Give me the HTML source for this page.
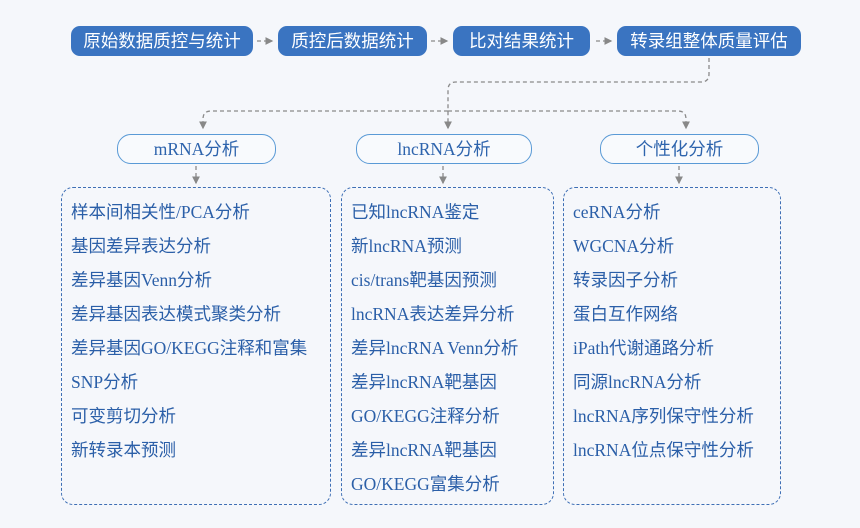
<!DOCTYPE html>
<html><head><meta charset="utf-8"><style>
body{margin:0;width:860px;height:528px;background:#f5f7fb;position:relative;overflow:hidden;font-family:"Liberation Serif","Noto Sans CJK SC",serif}
.t{position:absolute;height:30px;top:26px;border-radius:9px;background:#3a74c1;color:#fff;font-family:"Liberation Sans","Noto Sans CJK SC",sans-serif;font-size:17.5px;line-height:30px;text-align:center}
.c{position:absolute;top:134px;height:28px;border:1.5px solid #5a9ad6;border-radius:14px;background:#f8fafd;color:#2e64ad;font-size:17.5px;line-height:28px;text-align:center}
.b{position:absolute;top:187px;height:316px;border:1.7px dashed #3e6fb5;border-radius:12px}
.b div{position:absolute;left:9px;font-size:17.5px;color:#2b5fa8;white-space:nowrap;line-height:20px}
svg{position:absolute;left:0;top:0}
</style></head><body>
<svg width="860" height="528">
<defs><marker id="a" markerWidth="6" markerHeight="6" refX="5" refY="3" orient="auto"><path d="M0,0 L6,3 L0,6z" fill="#888"/></marker></defs>
<g stroke="#8a8a8a" stroke-width="1.3" stroke-dasharray="4,3" fill="none">
<line x1="257" y1="41" x2="272" y2="41" marker-end="url(#a)"/>
<line x1="431" y1="41" x2="447" y2="41" marker-end="url(#a)"/>
<line x1="596" y1="41" x2="611" y2="41" marker-end="url(#a)"/>
<path d="M709,58 V74 Q709,82 701,82 H456 Q448,82 448,90 V128" marker-end="url(#a)"/>
<path d="M448,111 H211 Q203,111 203,119 V128" marker-end="url(#a)"/>
<path d="M448,111 H678 Q686,111 686,119 V128" marker-end="url(#a)"/>
<line x1="196" y1="166" x2="196" y2="183" marker-end="url(#a)"/>
<line x1="443" y1="166" x2="443" y2="183" marker-end="url(#a)"/>
<line x1="679" y1="166" x2="679" y2="183" marker-end="url(#a)"/>
</g></svg>
<div class="t" style="left:71px;width:182px">原始数据质控与统计</div>
<div class="t" style="left:278px;width:149px">质控后数据统计</div>
<div class="t" style="left:453px;width:137px">比对结果统计</div>
<div class="t" style="left:617px;width:184px">转录组整体质量评估</div>
<div class="c" style="left:117px;width:157px">mRNA分析</div>
<div class="c" style="left:356px;width:174px">lncRNA分析</div>
<div class="c" style="left:600px;width:157px">个性化分析</div>
<div class="b" style="left:61px;width:268px">
<div style="top:14px">样本间相关性/PCA分析</div>
<div style="top:48px">基因差异表达分析</div>
<div style="top:82px">差异基因Venn分析</div>
<div style="top:116px">差异基因表达模式聚类分析</div>
<div style="top:150px">差异基因GO/KEGG注释和富集</div>
<div style="top:184px">SNP分析</div>
<div style="top:218px">可变剪切分析</div>
<div style="top:252px">新转录本预测</div>
</div>
<div class="b" style="left:341px;width:211px">
<div style="top:14px">已知lncRNA鉴定</div>
<div style="top:48px">新lncRNA预测</div>
<div style="top:82px">cis/trans靶基因预测</div>
<div style="top:116px">lncRNA表达差异分析</div>
<div style="top:150px">差异lncRNA Venn分析</div>
<div style="top:184px">差异lncRNA靶基因</div>
<div style="top:218px">GO/KEGG注释分析</div>
<div style="top:252px">差异lncRNA靶基因</div>
<div style="top:286px">GO/KEGG富集分析</div>
</div>
<div class="b" style="left:563px;width:216px">
<div style="top:14px">ceRNA分析</div>
<div style="top:48px">WGCNA分析</div>
<div style="top:82px">转录因子分析</div>
<div style="top:116px">蛋白互作网络</div>
<div style="top:150px">iPath代谢通路分析</div>
<div style="top:184px">同源lncRNA分析</div>
<div style="top:218px">lncRNA序列保守性分析</div>
<div style="top:252px">lncRNA位点保守性分析</div>
</div>
</body></html>
